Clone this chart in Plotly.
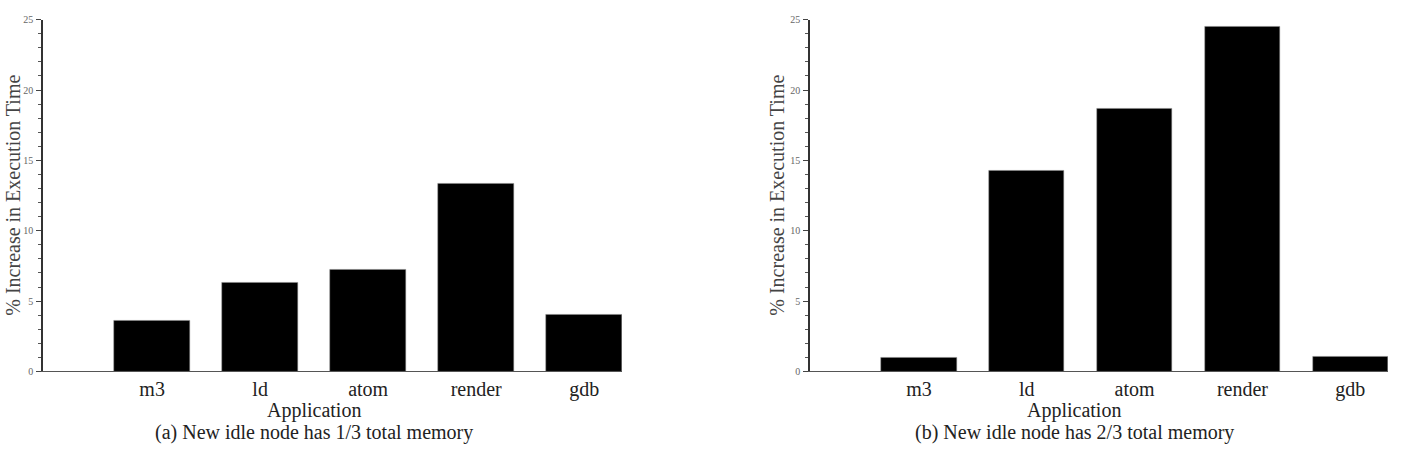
import plotly.graph_objects as go

apps = ["m3", "ld", "atom", "render", "gdb"]
inc_a = [3.61, 6.28, 7.22, 13.33, 4.02]
inc_b = [0.95, 14.3, 18.65, 24.5, 1.05]
yticks = [0, 5, 10, 15, 20, 25]
captions = ["(a) New idle node has 1/3 total memory", "(b) New idle node has 2/3 total memory"]
ytitle = "% Increase in Execution Time"
xtitle = "Application"

W, H = 1404, 456
FONT = "Liberation Serif"

fig = go.Figure()
panels = [(inc_a, "x", "y", [43 / W, 622 / W]), (inc_b, "x2", "y2", [810 / W, 1388 / W])]
ydom = [(H - 374.7) / H, (H - 15) / H]

for vals, xa, ya, dom in panels:
    fig.add_trace(go.Bar(x=apps, y=vals, xaxis=xa, yaxis=ya, width=0.7,
                         marker=dict(color="black", line=dict(color="#888", width=0.5)),
                         showlegend=False, hoverinfo="skip"))

common_x = dict(type="category", range=[-1.01, 4.35], showline=True, linecolor="#555", linewidth=1,
                ticks="", showgrid=False, zeroline=False,
                tickfont=dict(family=FONT, size=20, color="#222"), ticklabelstandoff=0)
common_y = dict(range=[0, 25], tickvals=yticks, showline=True, linecolor="#333", linewidth=1.5,
                ticks="outside", ticklen=5, tickwidth=1, tickcolor="#444", showgrid=False, zeroline=False,
                tickfont=dict(family=FONT, size=10, color="#666"), ticklabelstandoff=1,
                minor=dict(ticks="outside", ticklen=3, dtick=1, tickcolor="#555", tickwidth=1, showgrid=False))

fig.update_layout(
    width=W, height=H, margin=dict(l=0, r=0, t=0, b=0),
    paper_bgcolor="white", plot_bgcolor="white", bargap=0,
    xaxis=dict(domain=panels[0][3], anchor="y", **common_x),
    yaxis=dict(domain=ydom, anchor="x", **common_y),
    xaxis2=dict(domain=panels[1][3], anchor="y2", **common_x),
    yaxis2=dict(domain=ydom, anchor="x2", **common_y),
)

ann = []
for i, (cx, tx) in enumerate([(314, 13), (1074, 777)]):
    ann.append(dict(text=xtitle, x=cx / W, y=1 - 415 / H, xref="paper", yref="paper",
                    showarrow=False, font=dict(family=FONT, size=20, color="#222"),
                    xanchor="center", yanchor="middle"))
    ann.append(dict(text=captions[i], x=cx / W, y=1 - 437 / H, xref="paper", yref="paper",
                    showarrow=False, font=dict(family=FONT, size=20, color="#222"),
                    xanchor="center", yanchor="middle"))
    ann.append(dict(text=ytitle, x=tx / W, y=1 - 195 / H, xref="paper", yref="paper",
                    showarrow=False, textangle=-90, font=dict(family=FONT, size=20, color="#444"),
                    xanchor="center", yanchor="middle"))
fig.update_layout(annotations=ann)

fig.write_html("out.html")
